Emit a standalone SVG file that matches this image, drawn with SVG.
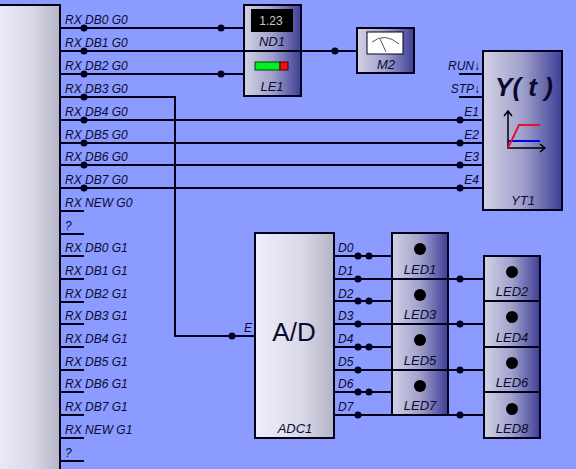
<svg xmlns="http://www.w3.org/2000/svg" xmlns:xlink="http://www.w3.org/1999/xlink" width="576" height="469" viewBox="0 0 576 469">
<defs>
<linearGradient id="light" x1="0" x2="1" y1="0" y2="0"><stop offset="0" stop-color="#eeeefc"/><stop offset="0.6" stop-color="#d8d8e8"/><stop offset="1" stop-color="#b4b4c4"/></linearGradient>
<linearGradient id="dark" x1="0" x2="1" y1="0" y2="0"><stop offset="0" stop-color="#d2d2e4"/><stop offset="0.5" stop-color="#a0a0cc"/><stop offset="1" stop-color="#3e3e96"/></linearGradient>
<circle id="d" r="3.5" fill="#000020"/>
</defs>
<style>
text{font-family:"Liberation Sans",Arial,sans-serif;fill:#0a0a30}
.l{font-size:12px;font-style:italic}
.c{font-size:13px;font-style:italic;text-anchor:middle}
.b{fill:url(#dark);stroke:#000018;stroke-width:2}
.w{fill:none;stroke:#000018;stroke-width:2}
</style>
<rect width="576" height="469" fill="#8c9bff"/>
<g id="connectors">
<path class="w" d="M60 28H244M60 51H358M60 74H244M60 97H175V336H255M60 120H483M60 143H483M60 165H483M60 188H483M60 211H84M60 234H84M60 256H84M60 279H84M60 302H84M60 324H84M60 347H84M60 370H84M60 392H84M60 415H84M60 438H84M60 461H84M459 74H483M459 97H483M334 256H392M334 279H484M334 301H392M334 324H484M334 347H392M334 370H484M334 392H392M334 415H484"/>
<use href="#d" x="84" y="28"/><use href="#d" x="84" y="51"/><use href="#d" x="84" y="74"/><use href="#d" x="84" y="97"/><use href="#d" x="84" y="120"/><use href="#d" x="84" y="143"/><use href="#d" x="84" y="165"/><use href="#d" x="84" y="188"/>
<use href="#d" x="221" y="28"/><use href="#d" x="221" y="74"/><use href="#d" x="335" y="51"/>
<use href="#d" x="460" y="120"/><use href="#d" x="460" y="143"/><use href="#d" x="460" y="165"/><use href="#d" x="460" y="188"/>
<use href="#d" x="232" y="336"/>
<use href="#d" x="358" y="256"/><use href="#d" x="369" y="256"/><use href="#d" x="358" y="279"/><use href="#d" x="460" y="279"/>
<use href="#d" x="358" y="301"/><use href="#d" x="369" y="301"/><use href="#d" x="358" y="324"/><use href="#d" x="460" y="324"/>
<use href="#d" x="358" y="347"/><use href="#d" x="369" y="347"/><use href="#d" x="358" y="370"/><use href="#d" x="460" y="370"/>
<use href="#d" x="358" y="392"/><use href="#d" x="369" y="392"/><use href="#d" x="358" y="415"/><use href="#d" x="460" y="415"/>
</g>
<g id="RX">
<rect x="-10" y="5" width="70" height="474" fill="url(#light)" stroke="#000018" stroke-width="2"/>
<text class="l" x="65" y="24">RX DB0 G0</text>
<text class="l" x="65" y="47">RX DB1 G0</text>
<text class="l" x="65" y="70">RX DB2 G0</text>
<text class="l" x="65" y="93">RX DB3 G0</text>
<text class="l" x="65" y="116">RX DB4 G0</text>
<text class="l" x="65" y="139">RX DB5 G0</text>
<text class="l" x="65" y="161">RX DB6 G0</text>
<text class="l" x="65" y="184">RX DB7 G0</text>
<text class="l" x="65" y="207">RX NEW G0</text>
<text class="l" x="65" y="230">?</text>
<text class="l" x="65" y="252">RX DB0 G1</text>
<text class="l" x="65" y="275">RX DB1 G1</text>
<text class="l" x="65" y="298">RX DB2 G1</text>
<text class="l" x="65" y="320">RX DB3 G1</text>
<text class="l" x="65" y="343">RX DB4 G1</text>
<text class="l" x="65" y="366">RX DB5 G1</text>
<text class="l" x="65" y="388">RX DB6 G1</text>
<text class="l" x="65" y="411">RX DB7 G1</text>
<text class="l" x="65" y="434">RX NEW G1</text>
<text class="l" x="65" y="457">?</text>
</g>
<g id="ND1">
<rect class="b" x="244" y="5" width="57" height="46"/>
<rect x="251" y="9" width="42" height="23" fill="#000"/>
<text x="271" y="25" font-size="12" text-anchor="middle" style="fill:#c8c8c8">1.23</text>
<text class="c" x="272" y="46">ND1</text>
</g>
<g id="LE1">
<rect class="b" x="244" y="51" width="57" height="45"/>
<rect x="255" y="62" width="25" height="8" fill="#00f020" stroke="#004010"/>
<rect x="280" y="62" width="8" height="8" fill="#f01010" stroke="#400000"/>
<text class="c" x="272" y="91">LE1</text>
</g>
<g id="M2">
<rect class="b" x="357" y="28" width="57" height="45"/>
<rect x="367" y="32" width="36" height="22" fill="#fff" stroke="#000018"/>
<path d="M372 42Q385 32 399 44M380 39L386 52" fill="none" stroke="#555"/>
<text class="c" x="386" y="69">M2</text>
</g>
<g id="YT1">
<rect class="b" x="483" y="51" width="79" height="159"/>
<text x="524" y="96" font-size="26" font-weight="bold" font-style="italic" text-anchor="middle">Y( t )</text>
<path d="M508 148V111M504 116L508 111L512 116M507 148H545M540 144L545 148L540 152" fill="none" stroke="#000" stroke-width="1.5"/>
<path d="M508 141H540" fill="none" stroke="#0000e0" stroke-width="2"/>
<path d="M508 148L519 125H540" fill="none" stroke="#e81030" stroke-width="2"/>
<text class="c" x="523" y="205">YT1</text>
<text class="l" x="480" y="70" text-anchor="end">RUN↓</text>
<text class="l" x="480" y="93" text-anchor="end">STP↓</text>
<text class="l" x="479" y="116" text-anchor="end">E1</text>
<text class="l" x="479" y="139" text-anchor="end">E2</text>
<text class="l" x="479" y="161" text-anchor="end">E3</text>
<text class="l" x="479" y="184" text-anchor="end">E4</text>
</g>
<g id="ADC1">
<rect x="255" y="233" width="79" height="205" fill="url(#light)" stroke="#000018" stroke-width="2"/>
<text x="294" y="341" font-size="26" text-anchor="middle">A/D</text>
<text class="c" x="295" y="433">ADC1</text>
<text class="l" x="244" y="332">E</text>
<text class="l" x="338" y="252">D0</text>
<text class="l" x="338" y="275">D1</text>
<text class="l" x="338" y="298">D2</text>
<text class="l" x="338" y="320">D3</text>
<text class="l" x="338" y="343">D4</text>
<text class="l" x="338" y="366">D5</text>
<text class="l" x="338" y="388">D6</text>
<text class="l" x="338" y="411">D7</text>
</g>
<g id="LED1"><rect class="b" x="392" y="233" width="56" height="46"/><circle cx="420" cy="249" r="6" fill="#000"/><text class="c" x="420" y="274">LED1</text></g>
<g id="LED3"><rect class="b" x="392" y="279" width="56" height="45"/><circle cx="420" cy="295" r="6" fill="#000"/><text class="c" x="420" y="319">LED3</text></g>
<g id="LED5"><rect class="b" x="392" y="324" width="56" height="46"/><circle cx="420" cy="340" r="6" fill="#000"/><text class="c" x="420" y="365">LED5</text></g>
<g id="LED7"><rect class="b" x="392" y="370" width="56" height="45"/><circle cx="420" cy="386" r="6" fill="#000"/><text class="c" x="420" y="410">LED7</text></g>
<g id="LED2"><rect class="b" x="484" y="256" width="56" height="45"/><circle cx="512" cy="272" r="6" fill="#000"/><text class="c" x="512" y="296">LED2</text></g>
<g id="LED4"><rect class="b" x="484" y="301" width="56" height="46"/><circle cx="512" cy="317" r="6" fill="#000"/><text class="c" x="512" y="342">LED4</text></g>
<g id="LED6"><rect class="b" x="484" y="347" width="56" height="45"/><circle cx="512" cy="363" r="6" fill="#000"/><text class="c" x="512" y="387">LED6</text></g>
<g id="LED8"><rect class="b" x="484" y="392" width="56" height="46"/><circle cx="512" cy="409" r="6" fill="#000"/><text class="c" x="512" y="433">LED8</text></g>
</svg>
